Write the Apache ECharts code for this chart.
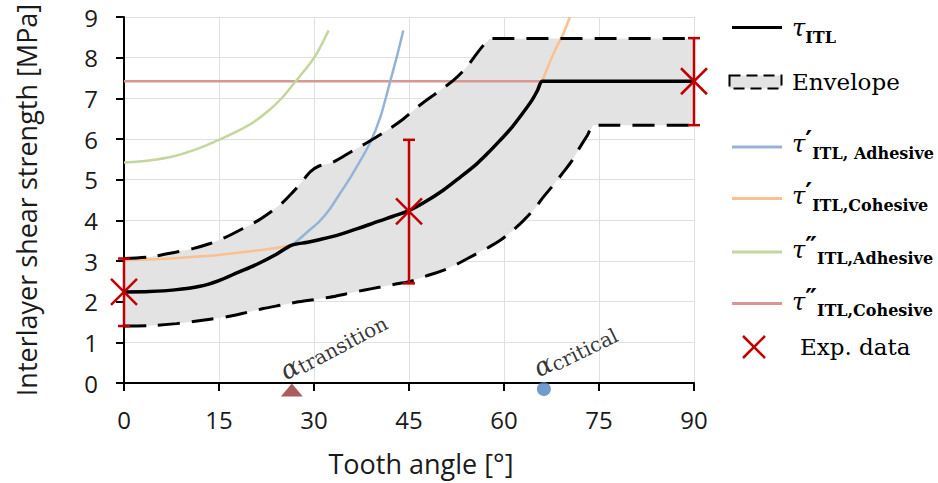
<!DOCTYPE html>
<html>
<head>
<meta charset="utf-8">
<script src="https://cdn.jsdelivr.net/npm/echarts@6/dist/echarts.min.js"></script>
<style>
  html, body { margin: 0; padding: 0; background: #fff; }
  #chart { width: 938px; height: 483px; }
</style>
</head>
<body>
<div id="chart"></div>
<script>
// Ejes
var xTicks = [0, 15, 30, 45, 60, 75, 90];
var yTicks = [0, 1, 2, 3, 4, 5, 6, 7, 8, 9];

// tau_ITL (linea negra)
var tauItl = [[0, 2.24], [4, 2.25], [8, 2.29], [12, 2.38], [15, 2.52], [18, 2.72], [21, 2.92], [24, 3.16],
  [26.5, 3.39], [29, 3.46], [31, 3.53], [34, 3.65], [37, 3.8], [40, 3.97], [42.5, 4.1], [45, 4.24],
  [47.5, 4.45], [50.4, 4.74], [53, 5.05], [55.7, 5.39], [57.5, 5.66], [59.4, 5.97], [61, 6.24],
  [62.5, 6.54], [64.4, 6.95], [65.3, 7.2], [66, 7.42], [66.6, 7.42], [90, 7.42]];

// tau' adhesive / cohesive
var tauAdh1 = [[0, 2.24], [4, 2.25], [8, 2.29], [12, 2.38], [15, 2.52], [18, 2.72], [21, 2.92], [24, 3.16],
  [26.5, 3.39], [29, 3.72], [30.9, 3.98], [32.5, 4.28], [34.1, 4.66], [36, 5.12], [38.8, 5.89],
  [40.5, 6.55], [42, 7.4], [43.2, 8.1], [44.1, 8.67]];
var tauCoh1 = [[0, 3.02], [5, 3.04], [10, 3.09], [15, 3.15], [20, 3.24], [24, 3.32], [26.5, 3.39],
  [29, 3.46], [31, 3.53], [34, 3.65], [37, 3.8], [40, 3.97], [42.5, 4.1], [45, 4.24], [47.5, 4.45],
  [50.4, 4.74], [53, 5.05], [55.7, 5.39], [57.5, 5.66], [59.4, 5.97], [61, 6.24], [62.5, 6.54],
  [64.4, 6.95], [65.3, 7.2], [66, 7.42], [67, 7.8], [68.3, 8.26], [69.4, 8.6], [70.4, 9.0]];

// tau'' adhesive / cohesive
var tauAdh2 = [[0, 5.42], [4, 5.47], [8, 5.58], [12, 5.78], [15, 5.98], [18, 6.2], [20.5, 6.42], [23, 6.72],
  [25, 7.02], [27, 7.4], [29, 7.78], [30.5, 8.12], [32.3, 8.67]];
var tauCoh2 = [[0, 7.42], [90, 7.42]];

// Envolvente
var envUpper = [[0, 3.06], [4, 3.1], [8.3, 3.22], [11, 3.31], [13.6, 3.43], [16, 3.58], [18.8, 3.8],
  [21, 3.98], [23.1, 4.2], [25, 4.43], [26.7, 4.7], [28, 4.93], [29.4, 5.19], [30.7, 5.33], [33, 5.43],
  [36.2, 5.72], [38.5, 5.92], [41.5, 6.21], [44, 6.48], [46.7, 6.83], [49.5, 7.15], [52, 7.44],
  [54, 7.75], [55.7, 8.1], [57, 8.35], [57.8, 8.47], [58.6, 8.47], [90, 8.47]];
var envLower = [[0, 1.4], [4, 1.41], [8.3, 1.46], [13.6, 1.57], [16.7, 1.64], [19.5, 1.74], [22, 1.83],
  [25, 1.92], [27.3, 1.99], [30, 2.05], [32.5, 2.11], [35, 2.19], [37.8, 2.28], [40.5, 2.36],
  [43.1, 2.44], [45.2, 2.5], [47.5, 2.62], [50.4, 2.77], [52.8, 2.94], [55.2, 3.14], [57.5, 3.33],
  [59.4, 3.51], [61.3, 3.74], [63.1, 4.0], [64.8, 4.28], [66.2, 4.57], [67.8, 4.87], [69.4, 5.19],
  [70.8, 5.48], [72, 5.8], [73.2, 6.1], [74.1, 6.34], [75, 6.34], [90, 6.34]];

// Datos experimentales
var expX = [0, 45, 90];
var expY = [2.24, 4.22, 7.42];
var expLow = [1.4, 2.45, 6.34];
var expHigh = [3.06, 5.98, 8.48];

// Angulos marcados
var alphaTransition = [26.5, 0];
var alphaCritical = [66.3, 0];

var sansFont = 'Open Sans';
var serifFont = 'DejaVu Serif';
var textColor = '#1a1a1a';

var expData = expX.map(function (x, i) {
  return [x, expY[i], expLow[i], expHigh[i]];
});

// poligono gris entre las dos curvas de la envolvente
function renderEnvelope(params, api) {
  var pts = envUpper.map(function (p) { return api.coord(p); })
    .concat(envLower.slice().reverse().map(function (p) { return api.coord(p); }));
  return { type: 'polygon', shape: { points: pts, smooth: 0 }, style: { fill: '#e3e3e3' } };
}

// barras de error + marca X
function renderExp(params, api) {
  var c = api.coord([api.value(0), api.value(1)]);
  var lo = api.coord([api.value(0), api.value(2)]);
  var hi = api.coord([api.value(0), api.value(3)]);
  var red = { stroke: '#c00000', lineWidth: 2.5 };
  var s = 13, cap = 6;
  return {
    type: 'group',
    children: [
      { type: 'line', shape: { x1: lo[0], y1: lo[1], x2: hi[0], y2: hi[1] }, style: red },
      { type: 'line', shape: { x1: lo[0] - cap, y1: lo[1], x2: lo[0] + cap, y2: lo[1] }, style: red },
      { type: 'line', shape: { x1: hi[0] - cap, y1: hi[1], x2: hi[0] + cap, y2: hi[1] }, style: red },
      { type: 'line', shape: { x1: c[0] - s, y1: c[1] - s, x2: c[0] + s, y2: c[1] + s }, style: red },
      { type: 'line', shape: { x1: c[0] - s, y1: c[1] + s, x2: c[0] + s, y2: c[1] - s }, style: red }
    ]
  };
}

function lineSeries(name, data, color, width, z, dash) {
  return {
    name: name,
    type: 'line',
    data: data,
    showSymbol: false,
    symbol: 'none',
    smooth: 0.3,
    z: z,
    silent: true,
    lineStyle: { color: color, width: width, type: dash || 'solid' }
  };
}

// leyenda: una fila por serie
var tauRich = {
  t: { fontFamily: serifFont, fontSize: 24, fontStyle: 'italic', color: '#000', lineHeight: 34, verticalAlign: 'middle' },
  p: { fontFamily: serifFont, fontSize: 26, fontWeight: 'bold', color: '#000', lineHeight: 20, verticalAlign: 'top' },
  s: { fontFamily: serifFont, fontSize: 16, fontWeight: 'bold', color: '#000', lineHeight: 18, verticalAlign: 'bottom' }
};
function legendLine(y, color, width) {
  return { type: 'line', shape: { x1: 732, y1: y, x2: 782, y2: y }, style: { stroke: color, lineWidth: width } };
}
function legendTau(yTau, prime, sub) {
  var txt = '{t|τ}' + (prime ? '{p|' + prime + '}' : '') + '{s|' + sub + '}';
  return {
    type: 'text', x: 792, y: yTau - 17,
    style: { text: txt, rich: tauRich, align: 'left', verticalAlign: 'top' }
  };
}
function legendText(x, y, txt) {
  return {
    type: 'text', x: x, y: y,
    style: { text: txt, fill: '#000', fontFamily: serifFont, fontSize: 23, align: 'left', verticalAlign: 'middle' }
  };
}

var legendItems = [
  legendLine(27.5, '#000', 3), legendTau(28, '', 'ITL'),
  { type: 'rect', shape: { x: 729.5, y: 75.5, width: 52, height: 13 },
    style: { fill: '#e3e3e3', stroke: '#000', lineWidth: 2, lineDash: [11, 6] } },
  legendText(792, 82, 'Envelope'),
  legendLine(147, '#95b3d7', 3), legendTau(144, '′', 'ITL, Adhesive'),
  legendLine(198.5, '#fac090', 3), legendTau(196, '′', 'ITL,Cohesive'),
  legendLine(252, '#c3d69b', 3), legendTau(249.5, '″', 'ITL,Adhesive'),
  legendLine(303.5, '#d99694', 3), legendTau(301.5, '″', 'ITL,Cohesive'),
  { type: 'line', shape: { x1: 743, y1: 336, x2: 765, y2: 358 }, style: { stroke: '#c00000', lineWidth: 2.5 } },
  { type: 'line', shape: { x1: 743, y1: 358, x2: 765, y2: 336 }, style: { stroke: '#c00000', lineWidth: 2.5 } },
  legendText(800, 347, 'Exp. data')
];

// etiquetas alfa giradas, colgadas de un punto invisible
var alphaRich = {
  a: { fontFamily: serifFont, fontSize: 26, fontStyle: 'italic', color: '#000', lineHeight: 28, verticalAlign: 'middle' },
  b: { fontFamily: serifFont, fontSize: 20, color: '#000', lineHeight: 22, verticalAlign: 'bottom' }
};
function alphaLabelSeries(name, point, sub, deg, offset) {
  return {
    type: 'scatter', name: name, data: [point], z: 5, silent: true,
    symbol: 'circle', symbolSize: 2, clip: false,
    itemStyle: { color: 'rgba(0,0,0,0)' },
    label: {
      show: true, position: [1, 1], offset: offset, rotate: deg,
      align: 'left', verticalAlign: 'bottom',
      formatter: '{a|α}{b|' + sub + '}',
      rich: alphaRich
    }
  };
}

var chart = echarts.init(document.getElementById('chart'), null, { renderer: 'svg' });

var option = {
  backgroundColor: '#fff',
  animation: false,
  grid: { left: 124, right: 244, top: 17, bottom: 100 },
  xAxis: {
    type: 'value',
    min: xTicks[0], max: xTicks[xTicks.length - 1], interval: 15,
    name: 'Tooth angle [°]',
    nameLocation: 'middle', nameGap: 67,
    nameTextStyle: { fontFamily: sansFont, fontSize: 27, color: textColor, padding: [0, 0, 0, 24] },
    axisLine: { lineStyle: { color: '#000', width: 2 } },
    axisTick: { length: 8, lineStyle: { color: '#000', width: 2 } },
    axisLabel: { fontFamily: sansFont, fontSize: 24, color: textColor, margin: 24 },
    splitLine: { lineStyle: { color: '#e0e0e0', width: 1 } }
  },
  yAxis: {
    type: 'value',
    min: yTicks[0], max: yTicks[yTicks.length - 1], interval: 1,
    name: 'Interlayer shear strength [MPa]',
    nameLocation: 'middle', nameGap: 84, nameRotate: 90,
    nameTextStyle: { fontFamily: sansFont, fontSize: 27, color: textColor },
    axisLine: { show: true, lineStyle: { color: '#000', width: 2 } },
    axisTick: { show: true, length: 8, lineStyle: { color: '#000', width: 2 } },
    axisLabel: { fontFamily: sansFont, fontSize: 24, color: textColor, margin: 26 },
    splitLine: { lineStyle: { color: '#e0e0e0', width: 1 } }
  },
  graphic: legendItems,
  series: [
    { type: 'custom', name: 'Envelope', renderItem: renderEnvelope, data: [[0, 0]], z: 1, silent: true },
    lineSeries('τ″ITL,Cohesive', tauCoh2, '#d99694', 2.5, 2),
    lineSeries('τ″ITL,Adhesive', tauAdh2, '#c3d69b', 2.5, 2),
    lineSeries('τ′ITL,Adhesive', tauAdh1, '#95b3d7', 2.5, 2),
    lineSeries('τ′ITL,Cohesive', tauCoh1, '#fac090', 2.5, 2),
    lineSeries('Envelope upper', envUpper, '#000', 3, 3, [22, 12]),
    lineSeries('Envelope lower', envLower, '#000', 3, 3, [22, 12]),
    lineSeries('τITL', tauItl, '#000', 3.5, 4),
    {
      type: 'scatter', name: 'alpha transition', data: [alphaTransition], z: 5, silent: true,
      symbol: 'triangle', symbolSize: [22, 13], symbolOffset: [0, 7], clip: false,
      itemStyle: { color: '#943634' }
    },
    {
      type: 'scatter', name: 'alpha critical', data: [alphaCritical], z: 5, silent: true,
      symbol: 'circle', symbolSize: 14, symbolOffset: [0, 6], clip: false,
      itemStyle: { color: '#4f81bd' }
    },
    alphaLabelSeries('alpha transition label', alphaTransition, 'transition', 28, [-4, 0]),
    alphaLabelSeries('alpha critical label', alphaCritical, 'critical', 26, [-2, -2]),
    { type: 'custom', name: 'Exp. data', renderItem: renderExp, data: expData, z: 6, silent: true, clip: false }
  ]
};

chart.setOption(option);
</script>
</body>
</html>
